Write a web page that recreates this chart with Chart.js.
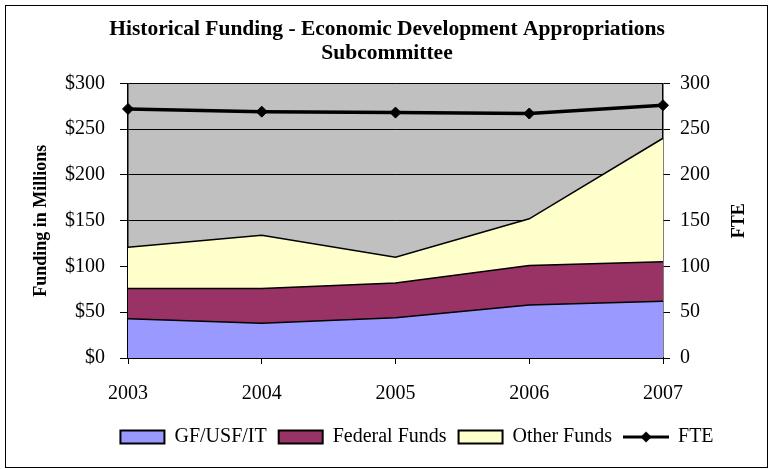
<!DOCTYPE html>
<html>
<head>
<meta charset="utf-8">
<script src="https://cdn.jsdelivr.net/npm/chart.js@4.4.1/dist/chart.umd.min.js"></script>
<style>
  body { margin: 0; background: #fff; }
  canvas { display: block; }
</style>
</head>
<body>
<canvas id="fundingChart" width="773" height="469"></canvas>
<script>
// ข้อมูลที่อ่านจากกราฟ
const years = ['2003', '2004', '2005', '2006', '2007'];
const gfUsfIt = [43, 38, 44, 58, 62];
const federalFunds = [33, 38, 38, 43, 43];
const otherFunds = [45, 58, 28, 51, 135];
const fte = [272, 269, 268, 267, 276];
const fundTicks = [0, 50, 100, 150, 200, 250, 300];

const serif = 'Liberation Serif';
Chart.defaults.font.family = serif;
Chart.defaults.color = '#000';

// ไอคอน legend ของ FTE: เส้นดำ + จุดข้าวหลามตัด
const fteIcon = document.createElement('canvas');
fteIcon.width = 46;
fteIcon.height = 14;
(function () {
  const c = fteIcon.getContext('2d');
  c.strokeStyle = '#000';
  c.lineWidth = 3;
  c.beginPath();
  c.moveTo(0, 7);
  c.lineTo(46, 7);
  c.stroke();
  c.fillStyle = '#000';
  c.beginPath();
  c.moveTo(23, 1.5);
  c.lineTo(28.5, 7);
  c.lineTo(23, 12.5);
  c.lineTo(17.5, 7);
  c.closePath();
  c.fill();
})();

// พื้นหลังเทาในพื้นที่กราฟ + กรอบรอบรูป + ชื่อแกนขวา
const decor = {
  id: 'decor',
  beforeDraw(chart) {
    const { ctx, chartArea: a } = chart;
    ctx.save();
    ctx.fillStyle = '#C0C0C0';
    ctx.fillRect(a.left, a.top, a.right - a.left, a.bottom - a.top);
    ctx.restore();
  },
  afterLayout(chart) {
    // เลื่อน legend ไปทางขวาเล็กน้อยตามต้นฉบับ
    chart.legend.left += 30;
    chart.legend.right += 30;
  },
  afterDraw(chart) {
    const { ctx, chartArea: a } = chart;
    const s = chart.scales.y1;
    ctx.save();
    ctx.strokeStyle = '#000';
    ctx.lineWidth = 1;
    ctx.strokeRect(5.5, 5.5, 762, 462);
    ctx.translate(s.right - 29, (a.top + a.bottom) / 2);
    ctx.rotate(-Math.PI / 2);
    ctx.font = 'bold 18px "' + serif + '"';
    ctx.textAlign = 'center';
    ctx.textBaseline = 'middle';
    ctx.fillStyle = '#000';
    ctx.fillText('FTE', 0, 0);
    ctx.restore();
  }
};

const ctx = document.getElementById('fundingChart').getContext('2d');

new Chart(ctx, {
  type: 'line',
  data: {
    labels: years,
    datasets: [
      {
        label: 'GF/USF/IT',
        data: gfUsfIt,
        backgroundColor: '#9999FF',
        borderColor: '#000',
        borderWidth: 1.5,
        fill: 'origin',
        pointRadius: 0,
        yAxisID: 'y',
        stack: 'funds',
        order: 1
      },
      {
        label: 'Federal Funds',
        data: federalFunds,
        backgroundColor: '#993366',
        borderColor: '#000',
        borderWidth: 1.5,
        fill: '-1',
        pointRadius: 0,
        yAxisID: 'y',
        stack: 'funds',
        order: 1
      },
      {
        label: 'Other Funds',
        data: otherFunds,
        backgroundColor: '#FFFFCC',
        borderColor: '#000',
        borderWidth: 1.5,
        fill: '-1',
        pointRadius: 0,
        yAxisID: 'y',
        stack: 'funds',
        order: 1
      },
      {
        label: 'FTE',
        data: fte,
        borderColor: '#000',
        backgroundColor: '#000',
        borderWidth: 3.5,
        fill: false,
        pointStyle: 'rectRot',
        pointRadius: 5.5,
        pointBorderWidth: 1,
        yAxisID: 'y1',
        stack: 'fte',
        clip: false,
        order: 0
      }
    ]
  },
  options: {
    responsive: false,
    animation: false,
    devicePixelRatio: 1,
    layout: { padding: { left: 6, right: 5, top: 6, bottom: 12 } },
    elements: { line: { tension: 0 } },
    plugins: {
      tooltip: { enabled: false },
      title: {
        display: true,
        text: ['Historical Funding - Economic Development Appropriations', 'Subcommittee'],
        font: { size: 21.5, weight: 'bold', lineHeight: 1.1 },
        padding: { top: 12, bottom: 18 }
      },
      legend: {
        position: 'bottom',
        labels: {
          usePointStyle: true,
          pointStyleWidth: 44,
          boxHeight: 13,
          padding: 12,
          font: { size: 20 },
          sort: (a, b) => a.datasetIndex - b.datasetIndex,
          generateLabels: chart => chart.data.datasets.map((ds, i) => ({
            text: ds.label,
            fillStyle: ds.backgroundColor,
            strokeStyle: '#000',
            lineWidth: 2,
            pointStyle: ds.label === 'FTE' ? fteIcon : 'rect',
            datasetIndex: i,
            hidden: false
          }))
        }
      }
    },
    scales: {
      x: {
        offset: false,
        grid: { display: true, drawOnChartArea: false, color: '#000', tickLength: 6 },
        border: { color: '#000', width: 1.5 },
        ticks: { font: { size: 20 }, padding: 18, maxRotation: 0 },
        afterFit: s => { s.height = 57; }
      },
      y: {
        position: 'left',
        stacked: true,
        min: 0,
        max: 300,
        grid: { color: '#000', tickLength: 8 },
        border: { color: '#000', width: 1.5 },
        afterBuildTicks: s => { s.ticks = fundTicks.map(v => ({ value: v })); },
        ticks: {
          font: { size: 20 },
          padding: 15,
          callback: v => '$' + v
        },
        title: {
          display: true,
          text: 'Funding in Millions',
          font: { size: 18, weight: 'bold' },
          padding: { top: 25 }
        },
        afterFit: s => { s.width = 122; }
      },
      y1: {
        position: 'right',
        min: 0,
        max: 300,
        grid: { drawOnChartArea: false, color: '#000', tickLength: 7 },
        border: { color: '#000', width: 1.5 },
        afterBuildTicks: s => { s.ticks = fundTicks.map(v => ({ value: v })); },
        ticks: { font: { size: 20 }, padding: 10 },
        afterFit: s => { s.width = 105; }
      }
    }
  },
  plugins: [decor]
});
</script>
</body>
</html>
